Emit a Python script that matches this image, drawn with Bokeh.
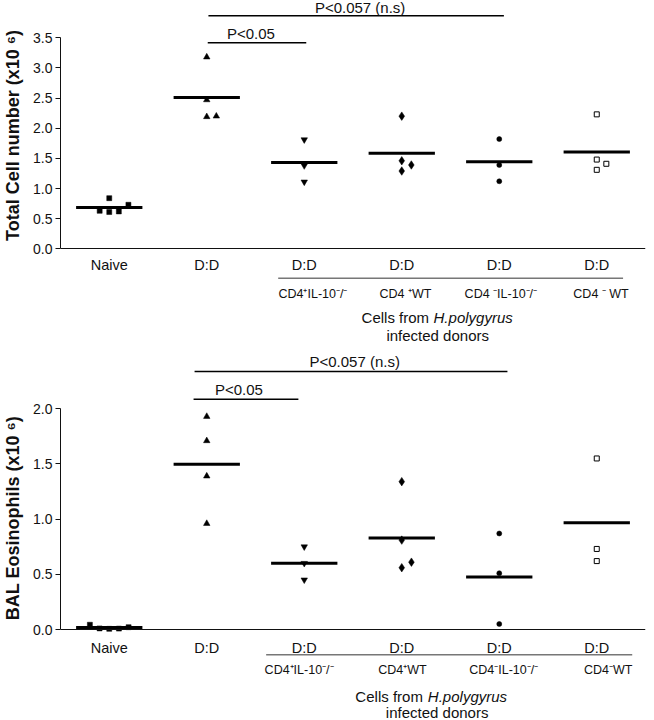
import numpy as np
from bokeh.plotting import figure
from bokeh.layouts import column
from bokeh.models import Range1d, FixedTicker, NumeralTickFormatter
from bokeh.core.properties import value
from bokeh.embed import file_html
from bokeh.resources import INLINE

FONT = "Liberation Sans"

# ---------------- data ----------------
group_labels = ["Naive", "D:D", "D:D", "D:D", "D:D", "D:D"]
sub_labels_top = ["CD4⁺IL-10⁻/⁻", "CD4 ⁺WT", "CD4 ⁻IL-10⁻/⁻", "CD4 ⁻ WT"]
sub_labels_bottom = ["CD4⁺IL-10⁻/⁻", "CD4⁺WT", "CD4⁻IL-10⁻/⁻", "CD4⁻WT"]
donor_caption = ["Cells from", "H.polygyrus", "infected donors"]
sig_labels = ["P<0.05", "P<0.057 (n.s)"]
y_ticks_top = [0.0, 0.5, 1.0, 1.5, 2.0, 2.5, 3.0, 3.5]
y_ticks_bottom = [0.0, 0.5, 1.0, 1.5, 2.0]
y_title_top = "Total Cell number (x10 ⁶)"
y_title_bottom = "BAL Eosinophils (x10 ⁶)"

total_naive = [0.63, 0.84, 0.61, 0.62, 0.73]
total_dd = [3.18, 2.47, 2.19, 2.20]
total_cd4p_il10 = [1.81, 1.38, 1.11]
total_cd4p_wt = [2.20, 1.46, 1.39, 1.29]
total_cd4n_il10 = [1.82, 1.39, 1.12]
total_cd4n_wt = [2.23, 1.48, 1.41, 1.31]

eos_naive = [0.043, 0.008, 0.006, 0.010, 0.021]
eos_dd = [1.93, 1.71, 1.39, 0.96]
eos_cd4p_il10 = [0.75, 0.60, 0.45]
eos_cd4p_wt = [1.34, 0.81, 0.61, 0.56]
eos_cd4n_il10 = [0.87, 0.51, 0.05]
eos_cd4n_wt = [1.55, 0.73, 0.62]

total_groups = [total_naive, total_dd, total_cd4p_il10, total_cd4p_wt, total_cd4n_il10, total_cd4n_wt]
eos_groups = [eos_naive, eos_dd, eos_cd4p_il10, eos_cd4p_wt, eos_cd4n_il10, eos_cd4n_wt]

# ---------------- style ----------------
MARKERS = [("square", "black", 5), ("triangle", "black", 6.5), ("inverted_triangle", "black", 6.5),
           ("diamond", "black", 8.5), ("circle", "black", 5), ("square", "white", 5)]
W = 654
LEFT = 59
INK = "#111111"
BASE_FIX = 0.33      # em shift so that glyph text sits on the wanted baseline
TITLE_FS = 18
NBSP_EM = 0.278      # width of a no-break space in Liberation Sans Bold


def swarm(vals, ppu, step, thr_px=7.5):
    vals = np.asarray(vals, dtype=float)
    order = np.argsort(vals, kind="stable")
    placed = []
    offs = np.zeros(len(vals))
    for idx in order:
        v = vals[idx]
        k = 0
        while True:
            m = (k + 1) // 2
            slot = m if k % 2 == 1 else -m
            if all(not (s == slot and abs(v - pv) * ppu < thr_px) for s, pv in placed):
                break
            k += 1
        placed.append((slot, v))
        offs[idx] = slot * step
    return offs


def make_panel(groups, y_ticks, y_title, sub_labels, height, page_top, zero_py, ppu, frame_w,
               xlab_standoff, ann):
    y_end = (zero_py - page_top) / ppu
    y_start = -(page_top + height - zero_py) / ppu
    x0, x1 = -0.5, 5.5
    ppc = frame_w / 6.0

    def tx(px):
        return x0 + (px - LEFT) / ppc

    def ty(py):
        return (zero_py - py) / ppu

    def tb(py, fs):
        return ty(py - BASE_FIX * fs)

    p = figure(width=W, height=height, x_range=Range1d(x0, x1), y_range=Range1d(y_start, y_end),
               output_backend="svg", toolbar_location=None,
               min_border_left=LEFT, min_border_right=W - LEFT - frame_w,
               min_border_top=0, min_border_bottom=0)
    p.outline_line_color = None
    p.grid.visible = False
    p.background_fill_color = "white"
    p.border_fill_color = "white"

    # y axis
    ya = p.yaxis[0]
    ya.bounds = (y_ticks[0], y_ticks[-1])
    ya.ticker = FixedTicker(ticks=y_ticks)
    ya.formatter = NumeralTickFormatter(format="0.0")
    ya.minor_tick_line_color = None
    ya.major_tick_in = 0
    ya.major_tick_out = 5
    ya.axis_line_color = INK
    ya.major_tick_line_color = INK
    ya.major_label_standoff = 3
    ya.major_label_text_font = FONT
    ya.major_label_text_font_size = "14px"
    ya.major_label_text_color = INK

    # y title: the axis label is centred on the whole frame; pad its start with
    # no-break spaces so that the visible words are centred on the drawn axis.
    frame_mid = page_top + height / 2.0
    target_mid = zero_py - ppu * (y_ticks[0] + y_ticks[-1]) / 2.0 + ann["title_dy"]
    n_pad = max(0, int(round(2 * (frame_mid - target_mid) / (NBSP_EM * TITLE_FS))))
    ya.axis_label = "\u00a0" * n_pad + y_title
    ya.axis_label_text_font = FONT
    ya.axis_label_text_font_style = "bold"
    ya.axis_label_text_font_size = f"{TITLE_FS}px"
    ya.axis_label_text_color = INK
    ya.axis_label_standoff = 7

    # x axis at y = 0
    xa = p.xaxis[0]
    xa.fixed_location = 0
    xa.ticker = FixedTicker(ticks=list(range(6)))
    xa.major_label_overrides = {i: lab for i, lab in enumerate(group_labels)}
    xa.major_tick_line_color = None
    xa.minor_tick_line_color = None
    xa.major_tick_in = 0
    xa.major_tick_out = 0
    xa.axis_line_color = INK
    xa.major_label_standoff = xlab_standoff
    xa.major_label_text_font = FONT
    xa.major_label_text_font_size = "14.5px"
    xa.major_label_text_color = INK

    step = 9.7 / ppc
    for i, vals in enumerate(groups):
        offs = swarm(vals, ppu, step)
        xs = [i + o for o in offs]
        mk, fill, size = MARKERS[i]
        p.scatter(xs, vals, marker=mk, size=size, fill_color=fill, line_color="black",
                  line_width=1 if fill == "white" else 0.5)
        m = float(np.mean(vals))
        p.segment(x0=[i - 0.34], x1=[i + 0.34], y0=[m], y1=[m], line_color="black", line_width=3)

    # significance bars and labels
    for (xa_px, xb_px, y_px), (tx_px, tb_px), lab in zip(ann["bars"], ann["texts"], sig_labels):
        p.segment(x0=[tx(xa_px)], x1=[tx(xb_px)], y0=[ty(y_px)], y1=[ty(y_px)],
                  line_color="black", line_width=1.5)
        p.text(x=[tx(tx_px)], y=[tb(tb_px, 15)], text=[lab], text_font=value(FONT),
               text_font_size="15px", text_align="center", text_baseline="alphabetic",
               text_color=INK)

    # separator and sub labels
    sx0, sx1, sy = ann["sep"]
    p.segment(x0=[tx(sx0)], x1=[tx(sx1)], y0=[ty(sy)], y1=[ty(sy)], line_color="#777777", line_width=1.5)
    p.text(x=[tx(c) for c in ann["sub_x"]], y=[tb(ann["sub_y"], 12.5)] * len(sub_labels), text=sub_labels,
           text_font=value(FONT), text_font_size="12.5px", text_align="center",
           text_baseline="alphabetic", text_color=INK)

    # caption
    cr, hl, cy, ic, iy = ann["caption"]
    p.text(x=[tx(cr)], y=[tb(cy, 15)], text=[donor_caption[0]], text_font=value(FONT), text_font_size="15px",
           text_align="right", text_baseline="alphabetic", text_color=INK)
    p.text(x=[tx(hl)], y=[tb(cy, 15)], text=[donor_caption[1]], text_font=value(FONT), text_font_size="15px",
           text_font_style="italic", text_align="left", text_baseline="alphabetic", text_color=INK)
    p.text(x=[tx(ic)], y=[tb(iy, 15)], text=[donor_caption[2]], text_font=value(FONT), text_font_size="15px",
           text_align="center", text_baseline="alphabetic", text_color=INK)
    return p


ann_top = {
    "bars": [(208, 307.7, 42.3), (208.7, 507.7, 15.3)],
    "texts": [(251.7, 38.3), (362.2, 11.5)],
    "sep": (279.3, 628.3, 277.7),
    "sub_x": [314.5, 408, 504.6, 606],
    "sub_y": 297.7,
    "caption": (432, 436.5, 321.7, 440.7, 340.3),
    "title_dy": -7,
}
ann_bottom = {
    "bars": [(192.3, 297.3, 398.7), (193.3, 506.7, 371)],
    "texts": [(237.7, 394.3), (353.7, 366)],
    "sep": (265, 631.7, 654.3),
    "sub_x": [298, 401.6, 503, 607.7],
    "sub_y": 673.3,
    "caption": (422, 427, 700.7, 436.3, 716.5),
    "title_dy": 0,
}

p1 = make_panel(total_groups, y_ticks_top, y_title_top, sub_labels_top, height=350, page_top=0,
                zero_py=248.3, ppu=60.29, frame_w=592, xlab_standoff=8, ann=ann_top)
p2 = make_panel(eos_groups, y_ticks_bottom, y_title_bottom, sub_labels_bottom, height=370, page_top=350,
                zero_py=629.0, ppu=110.35, frame_w=586, xlab_standoff=10, ann=ann_bottom)

layout = column(p1, p2, spacing=0)
open("out.html", "w").write(file_html(layout, INLINE))
